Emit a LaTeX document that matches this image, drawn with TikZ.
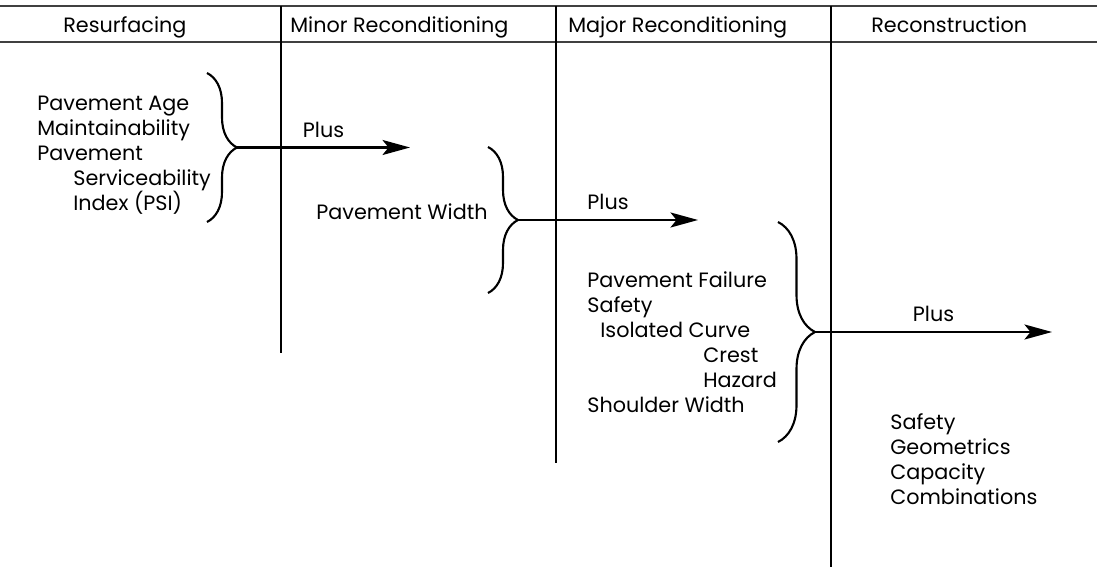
\documentclass[tikz,border=0pt]{standalone}
\usepackage{fontspec}
\setmainfont{Poppins}
\usetikzlibrary{arrows.meta,decorations.pathreplacing}

\begin{document}
\begin{tikzpicture}[x=0.02cm, y=-0.02cm,
  rule/.style={line width=1pt},
  headrule/.style={line width=1.3pt, black!75},
  item/.style={anchor=west, inner sep=0pt, text height=1.95ex, text depth=0.45ex, font=\fontsize{11.8pt}{14pt}\selectfont},
  curly/.style={decorate, line width=1.2pt, decoration={brace, amplitude=#1}},
  flow/.style={line width=1.3pt, -{Stealth[length=0.55cm, width=0.3cm, inset=0.12cm]}},
  pluslbl/.style={midway, above=5pt, inner sep=0pt, font=\fontsize{11.8pt}{14pt}\selectfont}
]
\useasboundingbox (0,0) rectangle (1097,567);
% header band
\draw[headrule] (0,6) -- (1097,6);
\draw[headrule] (0,42) -- (1097,42);
\node[item] (hres) at (63,25) {Resurfacing};
\node[item] (hminor) at (290,25) {Minor Reconditioning};
\node[item] (hmajor) at (568,25) {Major Reconditioning};
\node[item] (hrecon) at (871,25) {Reconstruction};
% column rules
\draw[rule] (281,6) -- (281,353);
\draw[rule] (556,6) -- (556,463);
\draw[rule] (831,6) -- (831,567);
% resurfacing
\node[item] (age) at (37,103) {Pavement Age};
\node[item] (maint) at (37,128) {Maintainability};
\node[item] (pave) at (37,153) {Pavement};
\node[item] (serv) at (73,178) {Serviceability};
\node[item] (psi) at (73,203) {Index (PSI)};
\coordinate (b1top) at (207,73);
\coordinate (b1bot) at (207,222);
\coordinate (b1tip) at (237,147.5);
\coordinate (b1end) at (410,147.5);
\draw[curly=0.6cm] (b1top) -- (b1bot);
\draw[flow] (b1tip) -- node[pluslbl] (plus1) {Plus} (b1end);
% minor reconditioning
\node[item] (width) at (316,212) {Pavement Width};
\coordinate (b2top) at (488,147);
\coordinate (b2bot) at (488,293);
\coordinate (b2tip) at (518,220);
\coordinate (b2end) at (698,220);
\draw[curly=0.6cm] (b2top) -- (b2bot);
\draw[flow] (b2tip) -- node[pluslbl] (plus2) {Plus} (b2end);
% major reconditioning
\node[item] (fail) at (587,280) {Pavement Failure};
\node[item] (safe) at (587,305) {Safety};
\node[item] (curve) at (600,330) {Isolated Curve};
\node[item] (crest) at (703,355) {Crest};
\node[item] (hazard) at (703,380) {Hazard};
\node[item] (shoulder) at (587,405) {Shoulder Width};
\coordinate (b3top) at (778,222);
\coordinate (b3bot) at (778,442);
\coordinate (b3tip) at (815,332);
\coordinate (b3end) at (1052,332);
\draw[curly=0.74cm] (b3top) -- (b3bot);
\draw[flow] (b3tip) -- node[pluslbl] (plus3) {Plus} (b3end);
% reconstruction
\node[item] (rsafe) at (890,422) {Safety};
\node[item] (geom) at (890,447) {Geometrics};
\node[item] (cap) at (890,472) {Capacity};
\node[item] (comb) at (890,497) {Combinations};
\end{tikzpicture}
\end{document}
